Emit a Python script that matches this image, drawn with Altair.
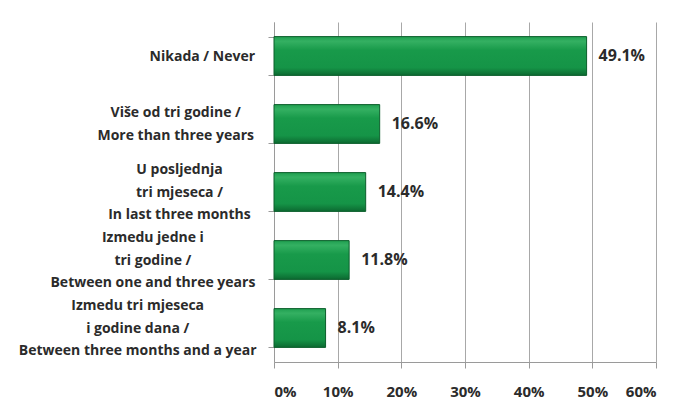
import altair as alt
import pandas as pd

categories = [
    "Nikada / Never",
    "Više od tri godine /|More than three years",
    "U posljednja|tri mjeseca /|In last three months",
    "Izmedu jedne i|tri godine /|Between one and three years",
    "Izmedu tri mjeseca|i godine dana /|Between three months and a year",
]
values = [49.1, 16.6, 14.4, 11.8, 8.1]
x_ticks = [0, 10, 20, 30, 40, 50, 60]

df = pd.DataFrame({"cat": categories, "val": values})
df["lbl"] = [f"{v:.1f}%" for v in values]

FONT = "Open Sans"
LH = 22.5

grad = alt.Gradient(
    gradient="linear",
    x1=0, y1=0, x2=0, y2=1,
    stops=[
        alt.GradientStop(color="#1f9f50", offset=0),
        alt.GradientStop(color="#34b062", offset=0.12),
        alt.GradientStop(color="#189a4a", offset=0.35),
        alt.GradientStop(color="#159447", offset=0.8),
        alt.GradientStop(color="#0c6a31", offset=1),
    ],
)

nlines = "length(split(datum.label, '|'))"
maxlen = (
    "max(length(split(datum.label, '|')[0]), "
    "length(split(datum.label, '|')[1] || ''), "
    "length(split(datum.label, '|')[2] || ''))"
)

y_enc = alt.Y(
    "cat:N",
    sort=categories,
    scale=alt.Scale(paddingInner=0.43, paddingOuter=0.215),
    axis=alt.Axis(
        title=None,
        labelExpr="split(datum.label, '|')",
        labelFont=FONT,
        labelFontSize=14,
        labelFontWeight="bold",
        labelColor="#2b2b2b",
        labelAlign="center",
        labelBaseline="middle",
        labelLineHeight=LH,
        labelPadding={"condition": {"test": "true", "expr": f"13 + 3.8 * {maxlen}"}, "value": 60},
        labelOffset={"condition": {"test": "true", "expr": f"-({nlines} - 1) * {LH / 2}"}, "value": 0},
        labelLimit=300,
        tickBand="extent",
        tickSize=6,
        tickColor="#9a9a9a",
        domainColor="#9a9a9a",
        grid=False,
    ),
)

x_enc = alt.X(
    "val:Q",
    scale=alt.Scale(domain=[0, 60], nice=False),
    axis=alt.Axis(
        title=None,
        values=x_ticks,
        labelExpr="datum.value + '%'",
        labelFont=FONT,
        labelFontSize=15,
        labelFontWeight="bold",
        labelColor="#2b2b2b",
        labelPadding=16,
        tickSize=6,
        tickColor="#9a9a9a",
        domainColor="#9a9a9a",
        grid=True,
        gridColor="#a8a8a8",
        gridWidth=1,
    ),
)

bars = alt.Chart(df).mark_bar(
    fill=grad, stroke="#0b5e2b", strokeWidth=1
).encode(y=y_enc, x=x_enc)

text = alt.Chart(df).mark_text(
    align="left", baseline="middle", dx=12,
    font=FONT, fontSize=16, fontWeight="bold", color="#2b2b2b"
).encode(y=alt.Y("cat:N", sort=categories), x="val:Q", text="lbl:N")

chart = (bars + text).properties(
    width=382,
    height=340,
    autosize=alt.AutoSizeParams(type="none"),
    padding={"left": 266, "top": 14, "right": 16, "bottom": 40},
    background="white",
).configure_view(stroke=None)

chart.save("out.html", embed_options={"renderer": "svg", "actions": False})
